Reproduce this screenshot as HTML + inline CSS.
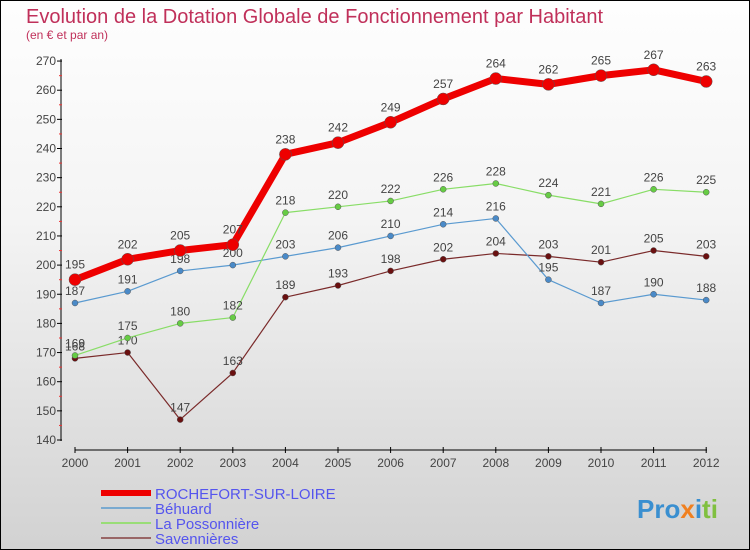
<!DOCTYPE html>
<html><head><meta charset="utf-8"><style>
body{margin:0}
#c{width:748px;height:548px;border:1px solid #000;background:linear-gradient(#fefefe,#f4f4f4 40%,#d2d2d2);position:relative;overflow:hidden;font-family:"Liberation Sans",sans-serif}
</style></head><body>
<div id="c">
<svg id="s" width="748" height="548">
<text x="25" y="22" font-size="20" fill="#c0305a">Evolution de la Dotation Globale de Fonctionnement par Habitant</text>
<text x="25" y="38" font-size="12" fill="#c0305a">(en € et par an)</text>
<g id="axes"></g><g id="series"></g>
<text x="636" y="517" font-size="26" font-weight="bold" fill="#3a8fd0">Pro<tspan fill="#f08020">x</tspan><tspan fill="#3a8fd0">i</tspan><tspan fill="#80c040">ti</tspan></text>
</svg>
</div>
<script>
const years=[2000,2001,2002,2003,2004,2005,2006,2007,2008,2009,2010,2011,2012];
const yTicks=[140,150,160,170,180,190,200,210,220,230,240,250,260,270];
const rochefort=[195,202,205,207,238,242,249,257,264,262,265,267,263];
const behuard=[187,191,198,200,203,206,210,214,216,195,187,190,188];
const possonniere=[169,175,180,182,218,220,222,226,228,224,221,226,225];
const savennieres=[168,170,147,163,189,193,198,202,204,203,201,205,203];
const NS="http://www.w3.org/2000/svg";
const X=i=>74+i*52.6, Y=v=>439-(v-140)*2.915;
function mk(t,a,p){const e=document.createElementNS(NS,t);for(const k in a)e.setAttribute(k,a[k]);p.appendChild(e);return e;}
const ax=document.getElementById('axes'), sg=document.getElementById('series');
let l=mk('line',{x1:60,y1:58,x2:60,y2:440,stroke:'#000'},ax);


l=mk('line',{x1:74,y1:449,x2:706,y2:449,stroke:'#000'},ax);


yTicks.forEach(v=>{mk('line',{x1:56,x2:61,y1:Y(v),y2:Y(v),stroke:'#000'},ax);
 if(v>140) mk('line',{x1:58,x2:61,y1:Y(v)+14.6,y2:Y(v)+14.6,stroke:'#e33'},ax);
 const t=mk('text',{x:55,y:Y(v)+4,'font-size':12,fill:'#444','text-anchor':'end'},ax);t.textContent=v;
 
 });
years.forEach((y,i)=>{mk('line',{x1:X(i),x2:X(i),y1:446,y2:452,stroke:'#000'},ax);
 const t=mk('text',{x:X(i),y:466,'font-size':12,fill:'#444','text-anchor':'middle'},ax);t.textContent=y;
 
 });
function series(vals,color,dot,w,r,name,off){
 const g=mk('g',{},sg);
 
 
 mk('polyline',{points:vals.map((v,i)=>X(i)+','+Y(v)).join(' '),fill:'none',stroke:color,'stroke-width':w,'stroke-linejoin':'round'},g);
 vals.forEach((v,i)=>{const c=mk('circle',{cx:X(i),cy:Y(v),r:r,fill:dot,stroke:'#555','stroke-width':0.5},g);
  
  
  const t=mk('text',{x:X(i),y:Y(v)-off,'font-size':12,fill:'#444','text-anchor':'middle'},g);t.textContent=v;
  
  });
}
series(savennieres,'#7a2a2a','#6a1010',1.2,3,'savennieres-line',8);
series(behuard,'#5a9ad0','#4a8ac8',1.2,3,'behuard-line',8);
series(possonniere,'#88dd66','#66cc44',1.2,3,'la-possonniere-line',8);
series(rochefort,'#ee0000','#ee0000',7,6,'rochefort-line',11);
const leg=[['ROCHEFORT-SUR-LOIRE','#ee0000',6],['Béhuard','#7aaad0',2],['La Possonnière','#99dd77',2],['Savennières','#996666',2]];
leg.forEach((d,i)=>{const y=492+i*15;
 const g=mk('g',{},sg);
 
 
 mk('line',{x1:100,x2:150,y1:y,y2:y,stroke:d[1],'stroke-width':d[2]},g);
 const t=mk('text',{x:154,y:y+6,'font-size':15,fill:'#5555ee'},g);t.textContent=d[0];});
</script>
</body></html>
